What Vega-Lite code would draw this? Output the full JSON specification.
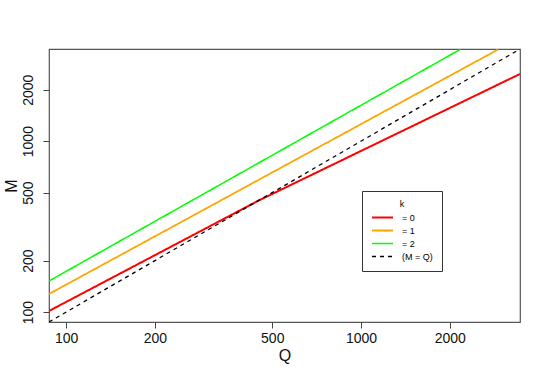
{
  "$schema": "https://vega.github.io/schema/vega-lite/v6.json",
  "width": 471,
  "height": 273,
  "autosize": "none",
  "padding": {"left": 49, "top": 49, "right": 30, "bottom": 60},
  "background": "white",
  "config": {
    "font": "Liberation Sans",
    "view": {"stroke": "#555555", "strokeWidth": 1.2},
    "axis": {"grid": false, "domain": false, "tickColor": "#444", "tickSize": 6, "labelColor": "#111", "titleColor": "#111", "labelFontSize": 14, "titleFontSize": 16, "titleFontWeight": "normal", "labelFlush": false, "labelOverlap": false, "format": "d"}
  },
  "data": {"values": [
    {"series": "= 0", "Q": 87.5, "M": 101.5},
    {"series": "= 0", "Q": 448, "M": 448},
    {"series": "= 0", "Q": 3460, "M": 2472},
    {"series": "= 1", "Q": 87.5, "M": 127.6},
    {"series": "= 1", "Q": 2918, "M": 3440},
    {"series": "= 2", "Q": 87.5, "M": 152},
    {"series": "= 2", "Q": 2168, "M": 3440},
    {"series": "(M = Q)", "Q": 87.5, "M": 87.5},
    {"series": "(M = Q)", "Q": 3460, "M": 3460}
  ]},
  "mark": {"type": "line", "clip": true},
  "encoding": {
    "x": {"field": "Q", "type": "quantitative",
      "scale": {"type": "log", "domain": [87.5, 3460], "nice": false, "zero": false},
      "axis": {"values": [100, 200, 500, 1000, 2000], "title": "Q", "labelPadding": 3, "titlePadding": 2}},
    "y": {"field": "M", "type": "quantitative",
      "scale": {"type": "log", "domain": [87.5, 3460], "nice": false, "zero": false},
      "axis": {"values": [100, 200, 500, 1000, 2000], "title": "M", "labelAngle": -90, "labelAlign": "center", "labelBaseline": "bottom", "labelPadding": 8, "titlePadding": 2}},
    "color": {"field": "series", "type": "nominal",
      "scale": {"domain": ["= 0", "= 1", "= 2", "(M = Q)"], "range": ["#FF0000", "#FFA500", "#00FF00", "#000000"]},
      "legend": {"title": "k", "orient": "none", "legendX": 313, "legendY": 142, "direction": "vertical",
        "titleAnchor": "middle", "titleFontSize": 9, "titleFontWeight": "normal", "titlePadding": 3,
        "labelFontSize": 9, "labelOffset": 8, "symbolType": "stroke", "symbolSize": 440,
        "clipHeight": 11, "rowPadding": 2, "padding": 9, "strokeColor": "#333333", "fillColor": "white", "cornerRadius": 0}},
    "strokeDash": {"field": "series", "type": "nominal",
      "scale": {"domain": ["= 0", "= 1", "= 2", "(M = Q)"], "range": [[1, 0], [1, 0], [1, 0], [4, 4]]}},
    "strokeWidth": {"field": "series", "type": "nominal",
      "scale": {"domain": ["= 0", "= 1", "= 2", "(M = Q)"], "range": [2, 1.3, 1.3, 1.3]}, "legend": null}
  }
}
